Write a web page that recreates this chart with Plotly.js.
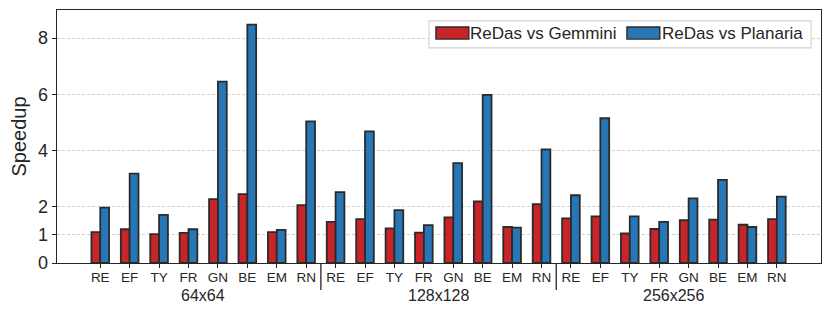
<!DOCTYPE html>
<html>
<head>
<meta charset="utf-8">
<script src="https://cdn.plot.ly/plotly-3.0.1.min.js"></script>
<style>html,body{margin:0;padding:0;background:#fff;}#chart{width:831px;height:314px;}</style>
</head>
<body>
<div id="chart"></div>
<script>
const sizes = ['64x64', '128x128', '256x256'];
const kernels = ['RE', 'EF', 'TY', 'FR', 'GN', 'BE', 'EM', 'RN'];
const seriesNames = ['ReDas vs Gemmini', 'ReDas vs Planaria'];
const gemmini64  = [1.10, 1.20, 1.03, 1.07, 2.27, 2.45, 1.10, 2.06];
const gemmini128 = [1.46, 1.56, 1.23, 1.08, 1.62, 2.19, 1.28, 2.09];
const gemmini256 = [1.59, 1.66, 1.05, 1.21, 1.52, 1.54, 1.36, 1.56];
const planaria64  = [1.97, 3.18, 1.71, 1.20, 6.45, 8.48, 1.18, 5.04];
const planaria128 = [2.52, 4.68, 1.88, 1.35, 3.55, 5.98, 1.26, 4.04];
const planaria256 = [2.41, 5.15, 1.66, 1.46, 2.30, 2.96, 1.28, 2.36];
const yTicks = [0, 1, 2, 4, 6, 8];
const colors = ['#c8252a', '#2777b6'];

const gem = [gemmini64, gemmini128, gemmini256];
const pla = [planaria64, planaria128, planaria256];

const xs = [], ticktext = [], gy = [], py = [];
sizes.forEach((s, g) => {
  kernels.forEach((k, j) => {
    xs.push(g * kernels.length + j);
    ticktext.push(k);
    gy.push(gem[g][j]);
    py.push(pla[g][j]);
  });
});

const edge = {color: '#2b2b2b', width: 1.8};
const traces = [
  {type: 'bar', name: seriesNames[0], x: xs, y: gy, marker: {color: colors[0], line: edge}, showlegend: false},
  {type: 'bar', name: seriesNames[1], x: xs, y: py, marker: {color: colors[1], line: edge}, showlegend: false}
];

const dark = '#262626';
const shapes = [];
const annotations = [];
// group dividers
for (let g = 1; g < sizes.length; g++) {
  const xd = g * kernels.length - 0.5;
  shapes.push({type: 'line', xref: 'x', yref: 'paper', x0: xd, x1: xd, y0: 0, y1: -0.107,
    line: {color: dark, width: 1.3}, layer: 'above'});
}
// group labels
sizes.forEach((s, g) => {
  annotations.push({text: s, xref: 'x', yref: 'paper', x: g * kernels.length + (kernels.length - 1) / 2,
    y: -0.128, xanchor: 'center', yanchor: 'middle', showarrow: false,
    font: {size: 16, color: dark}});
});
// legend box (custom, matplotlib-style)
shapes.push({type: 'rect', xref: 'paper', yref: 'paper', x0: 0.487, x1: 0.987, y0: 0.850, y1: 0.957,
  fillcolor: 'rgba(255,255,255,1)', line: {color: '#d4d4d4', width: 1.2}, layer: 'above'});
const patchX = [[0.496, 0.539], [0.746, 0.789]];
const textX = [0.5385, 0.7895];
seriesNames.forEach((n, i) => {
  shapes.push({type: 'rect', xref: 'paper', yref: 'paper', x0: patchX[i][0], x1: patchX[i][1], y0: 0.885, y1: 0.933,
    fillcolor: colors[i], line: {color: '#2b2b2b', width: 1.4}, layer: 'above'});
  annotations.push({text: n, xref: 'paper', yref: 'paper', x: textX[i], y: 0.909,
    xanchor: 'left', yanchor: 'middle', showarrow: false, font: {size: 17, color: dark}});
});

const layout = {
  width: 831, height: 314,
  margin: {l: 57, r: 10, t: 10, b: 51},
  paper_bgcolor: '#fff', plot_bgcolor: '#fff',
  font: {family: '"Liberation Sans", Arial, sans-serif', color: dark},
  barmode: 'group', bargap: 0.4, bargroupgap: 0,
  showlegend: false,
  xaxis: {
    range: [-1.47, 24.5], tickmode: 'array', tickvals: xs, ticktext: ticktext,
    ticks: 'outside', ticklen: 4, tickwidth: 1, tickcolor: dark,
    tickfont: {size: 13.5, color: dark}, ticklabelstandoff: -3,
    showline: true, linecolor: dark, linewidth: 1.3, mirror: true,
    showgrid: false, zeroline: false, fixedrange: true
  },
  yaxis: {
    range: [0, 9], tickmode: 'array', tickvals: yTicks,
    ticks: 'outside', ticklen: 4, tickwidth: 1, tickcolor: dark,
    tickfont: {size: 18, color: dark},
    showline: true, linecolor: dark, linewidth: 1.3, mirror: true,
    showgrid: true, gridcolor: '#c4c4c4', gridwidth: 0.8, griddash: '3px,2px',
    zeroline: false,
    title: {text: 'Speedup', font: {size: 20, color: dark}, standoff: 6}
  },
  shapes: shapes,
  annotations: annotations
};

Plotly.newPlot('chart', traces, layout, {displayModeBar: false, staticPlot: true});
</script>
</body>
</html>
